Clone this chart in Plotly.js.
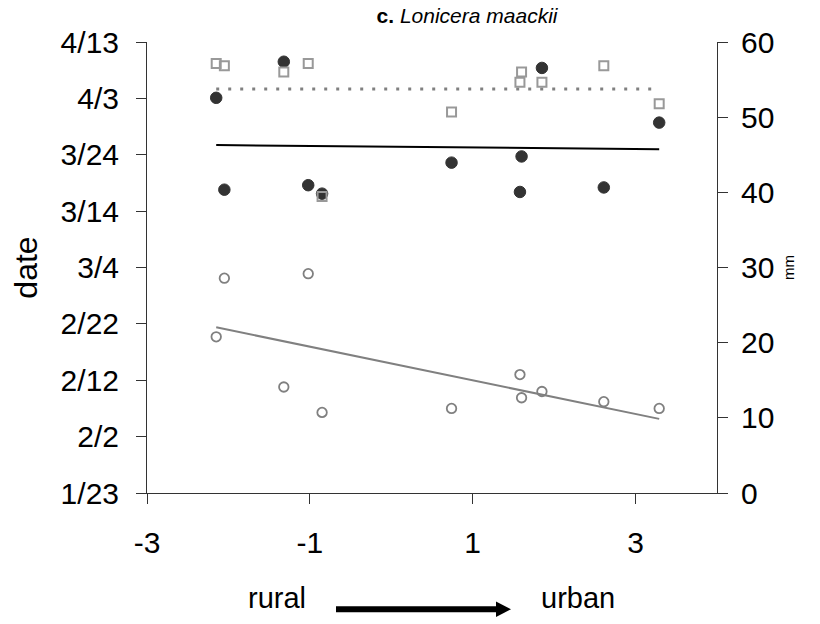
<!DOCTYPE html>
<html>
<head>
<meta charset="utf-8">
<script src="https://cdn.plot.ly/plotly-3.0.1.min.js"></script>
<style>html,body{margin:0;padding:0;background:#fff;}#chart{width:820px;height:624px;}</style>
</head>
<body>
<div id="chart"></div>
<script>
// urban-rural gradient score of each site
const siteX = [-2.15, -2.05, -1.32, -1.02, -0.85, 0.74, 1.58, 1.60, 1.85, 2.61, 3.29];
// filled circles: date (day of year, 2019)
const filledDOY = [93.1, 76.8, 99.5, 77.6, 76.1, 81.6, 76.4, 82.7, 98.4, 77.2, 88.7];
// open circles: date (day of year, 2019)
const openDOY = [50.7, 61.1, 41.8, 61.9, 37.3, 38.0, 44.0, 39.9, 41.0, 39.2, 38.0];
// open squares: mm (right axis)
const squaresMM = [57.15, 56.85, 56.01, 57.15, 39.46, 50.69, 54.63, 56.01, 54.63, 56.85, 51.79];
// x tick values and labels (hyphen minus as in the original)
const xTickVals = [-3, -1, 1, 3];
const xTickText = ['-3', '-1', '1', '3'];

const YEAR = 2019;
function doyToDate(d) {
  const ms = Date.UTC(YEAR, 0, 1) + (d - 1) * 86400000;
  return new Date(ms).toISOString().slice(0, 19).replace('T', ' ');
}
function fit(xs, ys) {
  const n = xs.length;
  const mx = xs.reduce((a, b) => a + b, 0) / n;
  const my = ys.reduce((a, b) => a + b, 0) / n;
  let sxy = 0, sxx = 0;
  for (let i = 0; i < n; i++) { sxy += (xs[i] - mx) * (ys[i] - my); sxx += (xs[i] - mx) ** 2; }
  const b = sxy / sxx;
  return x => my + b * (x - mx);
}
const xMin = Math.min(...siteX), xMax = Math.max(...siteX);
const fFilled = fit(siteX, filledDOY);
const fOpen = fit(siteX, openDOY);
const meanSq = squaresMM.reduce((a, b) => a + b, 0) / squaresMM.length;

const FONT = '"Liberation Sans", Arial, sans-serif';
const AX = '#333333';

const traces = [
  { x: [xMin, xMax], y: [meanSq, meanSq], yaxis: 'y2', mode: 'lines',
    line: { color: '#808080', width: 3, dash: '3px,9px' }, hoverinfo: 'skip' },
  { x: siteX, y: squaresMM, yaxis: 'y2', mode: 'markers',
    marker: { symbol: 'square-open', size: 9, color: '#999999', line: { width: 2, color: '#999999' } } },
  { x: [xMin, xMax], y: [doyToDate(fOpen(xMin)), doyToDate(fOpen(xMax))], mode: 'lines',
    line: { color: '#808080', width: 2 } },
  { x: siteX, y: openDOY.map(doyToDate), mode: 'markers',
    marker: { symbol: 'circle-open', size: 9.5, color: '#808080', line: { width: 1.8, color: '#808080' } } },
  { x: [xMin, xMax], y: [doyToDate(fFilled(xMin)), doyToDate(fFilled(xMax))], mode: 'lines',
    line: { color: '#000000', width: 2 } },
  { x: siteX, y: filledDOY.map(doyToDate), mode: 'markers',
    marker: { symbol: 'circle', size: 11.5, color: '#333333', line: { width: 1, color: '#333333' } } }
];

const L = 147, R = 103, T = 42, B = 131;
const W = 820 - L - R, H = 624 - T - B;
const px = v => (v - L) / W;
const py = v => (624 - B - v) / H;

const layout = {
  width: 820, height: 624,
  margin: { l: L, r: R, t: T, b: B, pad: 0 },
  paper_bgcolor: '#ffffff', plot_bgcolor: '#ffffff',
  showlegend: false,
  font: { family: FONT, color: '#000' },
  title: { text: '<b>c.</b> <i>Lonicera maackii</i>', font: { family: FONT, size: 21, color: '#000' },
    x: 467 / 820, xanchor: 'center', y: 1 - 16 / 624, yanchor: 'middle' },
  xaxis: {
    range: [-3, 4], tickmode: 'array', tickvals: xTickVals, ticktext: xTickText,
    showgrid: false, zeroline: false,
    showline: true, linecolor: AX, linewidth: 1,
    ticks: 'outside', ticklen: 10, tickcolor: AX, tickwidth: 1, ticklabelstandoff: 13,
    tickfont: { family: FONT, size: 30, color: '#000' }, automargin: false
  },
  yaxis: {
    type: 'date', range: [YEAR + '-01-23', YEAR + '-04-13'], tick0: YEAR + '-01-23', dtick: 864000000,
    tickformat: '%-m/%-d', showgrid: false, zeroline: false,
    showline: true, linecolor: AX, linewidth: 1,
    ticks: 'outside', ticklen: 10, tickcolor: AX, tickwidth: 1, ticklabelstandoff: 11,
    tickfont: { family: FONT, size: 30, color: '#000' }, automargin: false,
    title: { text: 'date', font: { family: FONT, size: 32, color: '#000' }, standoff: 13 }
  },
  yaxis2: {
    overlaying: 'y', side: 'right', range: [0, 60], dtick: 10, tick0: 0,
    showgrid: false, zeroline: false, showline: true, linecolor: AX, linewidth: 1,
    ticks: 'outside', ticklen: 10, tickcolor: AX, tickwidth: 1, ticklabelstandoff: 7,
    tickfont: { family: FONT, size: 30, color: '#000' }, automargin: false,
    title: { text: 'mm', font: { family: FONT, size: 15, color: '#000' }, standoff: 10 }
  },
  yaxis3: {
    overlaying: 'y', side: 'right', range: [0, 60], dtick: 10, tick0: 0,
    showgrid: false, zeroline: false, showline: false,
    ticks: 'inside', ticklen: 10, tickcolor: AX, tickwidth: 1, showticklabels: false
  },
  annotations: [
    { xref: 'paper', yref: 'paper', x: px(276.7), y: py(598), text: 'rural', showarrow: false,
      xanchor: 'center', yanchor: 'middle', font: { family: FONT, size: 29, color: '#000' } },
    { xref: 'paper', yref: 'paper', x: px(578), y: py(598), text: 'urban', showarrow: false,
      xanchor: 'center', yanchor: 'middle', font: { family: FONT, size: 29, color: '#000' } }
  ],
  shapes: [
    { type: 'line', xref: 'paper', yref: 'paper', x0: px(336), x1: px(498), y0: py(609.3), y1: py(609.3),
      line: { color: '#000', width: 6 } },
    { type: 'path', xref: 'paper', yref: 'paper',
      path: 'M ' + px(496) + ' ' + py(601.5) + ' L ' + px(511) + ' ' + py(609.3) + ' L ' + px(496) + ' ' + py(617) + ' Z',
      fillcolor: '#000', line: { color: '#000', width: 0 } }
  ]
};

Plotly.newPlot('chart', traces, layout, { staticPlot: true, displayModeBar: false });
</script>
</body>
</html>
